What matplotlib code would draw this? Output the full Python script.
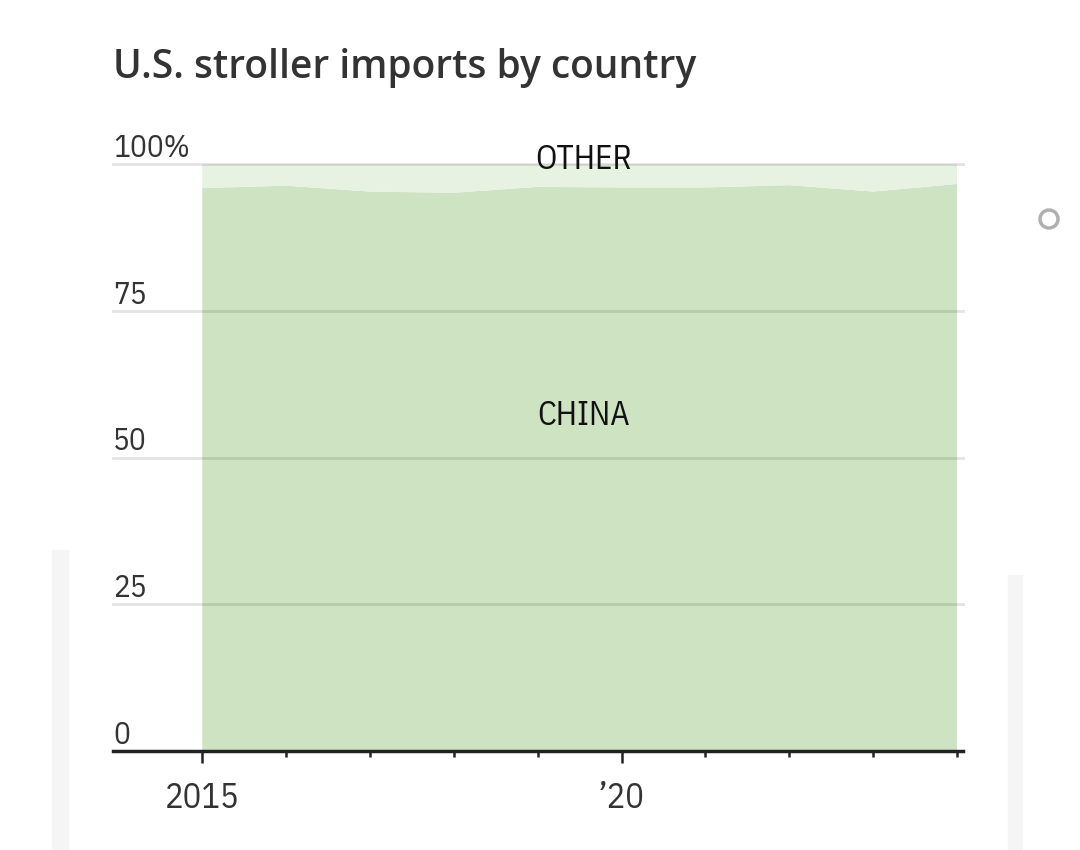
import numpy as np
import matplotlib.pyplot as plt
from matplotlib.patches import Rectangle, Ellipse

years = [2015, 2016, 2017, 2018, 2019, 2020, 2021, 2022, 2023, 2024]
china = [95.9, 96.3, 95.3, 95.1, 96.1, 96.0, 96.0, 96.4, 95.3, 96.6]
other = [100 - c for c in china]
y_ticks = [0, 25, 50, 75, 100]
y_labels = ['0', '25', '50', '75', '100%']
x_ticks = list(range(2015, 2025))
x_labels = {2015: '2015', 2020: '\u201920'}

W, H = 1080, 850
NARROW = 'IBM Plex Sans Condensed'

fig = plt.figure(figsize=(W / 100, H / 100), dpi=100)

# screenshot artefacts around the chart
fig.patches.append(Rectangle((52 / W, 0), 16 / W, 300 / H, transform=fig.transFigure,
                             color='#f5f5f5', zorder=0))
fig.patches.append(Rectangle((1008 / W, 0), 14 / W, 275 / H, transform=fig.transFigure,
                             color='#f5f5f5', zorder=0))
fig.patches.append(Ellipse((1049 / W, 1 - 219 / H), 18 / W, 18 / H, transform=fig.transFigure,
                           fill=False, ec='#b0b0b0', lw=2.5))

left, right, top, bottom = 113, 963, 164, 751
ax = fig.add_axes([left / W, 1 - bottom / H, (right - left) / W, (bottom - top) / H])
px = (620 - 202) / 5
x0 = 2015 - (202 - left) / px
ax.set_xlim(x0, 2024 + (right - 957) / px)
ax.set_ylim(0, 100)

ax.stackplot(years, china, other, colors=['#cde3c2', '#e7f2e2'], lw=0, zorder=1)

for t, lab in zip(y_ticks, y_labels):
    if t > 0:
        ax.axhline(t, color='black', alpha=0.11, lw=2, zorder=2, clip_on=False)
    ax.text(x0, t + 1.2, lab, ha='left', va='baseline', fontsize=22.5,
            fontfamily=NARROW, color='#333333')

for s in ['top', 'right', 'left']:
    ax.spines[s].set_visible(False)
ax.spines['bottom'].set_color('#222222')
ax.spines['bottom'].set_linewidth(2.5)
ax.set_yticks([])
ax.set_xticks(x_ticks)
ax.set_xticklabels([])
ax.tick_params(axis='x', length=4.3, width=1.8, color='#222222')
for tick in ax.xaxis.get_major_ticks():
    if tick.get_loc() in x_labels:
        tick.tick1line.set_markersize(8.6)

for yr, lab in x_labels.items():
    ax.text(yr, -(808 - bottom) / (bottom - top), lab, transform=ax.get_xaxis_transform(),
            ha='center', va='baseline', fontsize=25, fontfamily=NARROW, color='#333333')

ax.text(2019.55, 99.15, 'OTHER', ha='center', va='baseline', fontsize=24,
        fontfamily=NARROW, color='#111111')
ax.text(2019.55, 55.5, 'CHINA', ha='center', va='baseline', fontsize=24,
        fontfamily=NARROW, color='#111111')

fig.text(113 / W, 1 - 78 / H, 'U.S. stroller imports by country', ha='left',
         va='baseline', fontsize=28, fontweight='semibold', fontfamily='Open Sans',
         color='#333333')

fig.savefig('out.png', dpi=100)
